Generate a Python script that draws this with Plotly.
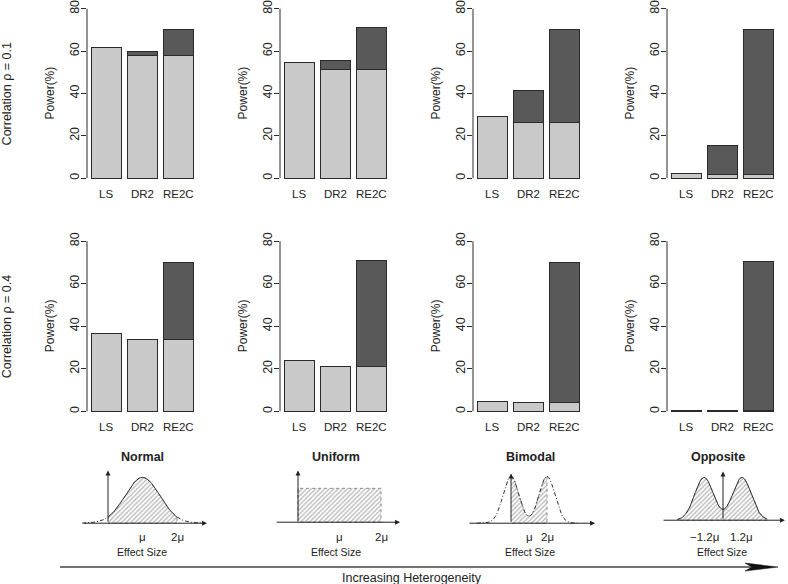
import numpy as np
import plotly.graph_objects as go

# ---------------- data ----------------
methods = ["LS", "DR2", "RE2C"]
scenarios = ["Normal", "Uniform", "Bimodal", "Opposite"]
row_labels = ["Correlation ρ = 0.1", "Correlation ρ = 0.4"]

# rho = 0.1
ls_r1 = [61.5, 54.5, 28.9, 2.2]
dr2_base_r1 = [58.0, 51.1, 26.4, 1.9]
dr2_total_r1 = [59.8, 55.6, 41.6, 15.5]
re2c_base_r1 = [58.0, 51.1, 26.4, 1.9]
re2c_total_r1 = [70.0, 71.1, 70.3, 70.0]
# rho = 0.4
ls_r2 = [36.7, 23.7, 4.7, 0.2]
dr2_base_r2 = [33.7, 21.2, 3.9, 0.2]
dr2_total_r2 = [33.7, 21.2, 3.9, 0.2]
re2c_base_r2 = [33.7, 21.2, 3.9, 0.2]
re2c_total_r2 = [70.0, 70.9, 70.0, 70.3]

y_ticks = [0, 20, 40, 60, 80]

# effect-size distributions of the sketches (in units of mu)
normal_mean, normal_sd = 1.0, 0.5
uniform_low, uniform_high = 0.0, 2.0
bimodal_modes, bimodal_sd = [0.0, 2.0], 0.44
opposite_modes, opposite_sd = [-1.2, 1.2], 0.59

# ---------------- layout helpers ----------------
W, H = 788, 584
FONT = "Liberation Sans, Arial, sans-serif"
TXT = "#222222"
LIGHT = "#c9c9c9"
DARK = "#595959"
EDGE = "#2a2a2a"


def xd(l, r):
    return [max(0, l / W), min(1, r / W)]


def yd(top, bottom):
    return [max(0, 1 - bottom / H), min(1, 1 - top / H)]


fig = go.Figure()
layout = dict(
    width=W, height=H, margin=dict(l=0, r=0, t=0, b=0),
    paper_bgcolor="white", plot_bgcolor="white", showlegend=False,
    barmode="stack", bargap=1 / 6, font=dict(family=FONT, color=TXT, size=12),
)
annotations = []
shapes = []

panel_lefts = [87, 280, 473, 667]
panel_w = 110.2
row_tb = [(-0.1, 183.5), (233.2, 417.5)]
rows = [
    (ls_r1, dr2_base_r1, dr2_total_r1, re2c_base_r1, re2c_total_r1),
    (ls_r2, dr2_base_r2, dr2_total_r2, re2c_base_r2, re2c_total_r2),
]
cat_label_px = [193, 426]

idx = 0
for r in range(2):
    ls, db, dt, rb, rt = rows[r]
    top, bot = row_tb[r]
    for c in range(4):
        idx += 1
        sfx = "" if idx == 1 else str(idx)
        xname, yname = "x" + sfx, "y" + sfx
        light = [ls[c], db[c], rb[c]]
        dark = [None, dt[c] - db[c], rt[c] - rb[c]]
        fig.add_trace(go.Bar(x=methods, y=light, xaxis=xname, yaxis=yname,
                             marker=dict(color=LIGHT, line=dict(color=EDGE, width=1))))
        fig.add_trace(go.Bar(x=methods, y=dark, xaxis=xname, yaxis=yname,
                             marker=dict(color=DARK, line=dict(color=EDGE, width=1))))
        layout["xaxis" + sfx] = dict(
            domain=xd(panel_lefts[c], panel_lefts[c] + panel_w), anchor=yname,
            type="category", categoryarray=methods, range=[-0.53, 2.53],
            showline=False, showgrid=False, zeroline=False, showticklabels=False,
            ticks="", fixedrange=True)
        layout["yaxis" + sfx] = dict(
            domain=yd(top, bot), anchor=xname, range=[-3.2, 83.2],
            tickvals=y_ticks, ticks="outside", ticklen=5, tickcolor=EDGE,
            tickangle=-90, tickfont=dict(size=12.5), ticklabeloverflow="allow",
            ticklabelstandoff=-3,
            showline=False, showgrid=False, zeroline=False, fixedrange=True)
        shapes.append(dict(type="line", xref=xname + " domain", yref=yname,
                           x0=0, x1=0, y0=0, y1=80, line=dict(color=EDGE, width=1)))
        for m in methods:
            annotations.append(dict(text=m, x=m, xref=xname, yref="paper",
                                    y=1 - cat_label_px[r] / H, showarrow=False,
                                    font=dict(size=11.5), xanchor="center", yanchor="middle"))
        annotations.append(dict(
            text="Power(%)", textangle=-90, xref="paper", yref="paper",
            x=(panel_lefts[c] - 37) / W, y=1 - ((top + bot) / 2) / H,
            showarrow=False, font=dict(size=12), xanchor="center", yanchor="middle"))
    annotations.append(dict(
        text=row_labels[r], textangle=-90, xref="paper", yref="paper",
        x=7 / W, y=1 - ((top + bot) / 2 + 1) / H, showarrow=False,
        font=dict(size=12.5), xanchor="center", yanchor="middle"))

# ---------------- distribution sketches ----------------
def gauss(x, m, s):
    return np.exp(-0.5 * ((x - m) / s) ** 2)


sketch_cfg = [
    # x0 px, px per mu, domain px, baseline px, peak px, h-axis [l,r], v-axis top px
    dict(x0=108, s=34.5, dom=(70, 222), b=523, p=477, h=(-0.75, 2.87), vt=470),
    dict(x0=298, s=41.5, dom=(262, 412), b=522, p=488, h=(-0.55, 2.46), vt=470),
    dict(x0=511, s=18.0, dom=(458, 602), b=523, p=476, h=(-2.39, 4.67), vt=473),
    dict(x0=723, s=15.8, dom=(652, 788), b=520, p=477, h=(-3.86, 3.92), vt=471),
]
ydom_px = (456, 534)
title_x = [142, 336, 530, 718]
label_x = [142, 336, 530, 722]
hatch = dict(shape="/", fgcolor="#6e6e6e", bgcolor="white", size=3.2, solidity=0.4)
dot_line = dict(color="#8a8a8a", width=1, dash="dot")
curve_solid = dict(color="#333333", width=1)
curve_dash = dict(color="#333333", width=1, dash="4px,2px,1px,2px")

for k, cfg in enumerate(sketch_cfg):
    n = 9 + k
    xname, yname = f"x{n}", f"y{n}"
    sc = cfg["b"] - cfg["p"]
    xr = [(cfg["dom"][0] - cfg["x0"]) / cfg["s"], (cfg["dom"][1] - cfg["x0"]) / cfg["s"]]
    yr = [-(ydom_px[1] - cfg["b"]) / sc, (cfg["b"] - ydom_px[0]) / sc]
    layout[f"xaxis{n}"] = dict(domain=xd(*cfg["dom"]), anchor=yname, range=xr, visible=False, fixedrange=True)
    layout[f"yaxis{n}"] = dict(domain=yd(*ydom_px), anchor=xname, range=yr, visible=False, fixedrange=True)
    name = scenarios[k]

    def add(x, y, line, fill=False):
        fig.add_trace(go.Scatter(
            x=x, y=y, xaxis=xname, yaxis=yname, mode="lines", line=line,
            fill="toself" if fill else None, fillpattern=hatch if fill else None,
            hoverinfo="skip"))

    if name == "Normal":
        f = lambda x: gauss(x, normal_mean, normal_sd)
        xs = np.linspace(0, 2 * normal_mean, 120)
        add(np.r_[xs, xs[::-1]], np.r_[f(xs), np.zeros_like(xs)], dot_line, fill=True)
        add(xs, f(xs), curve_solid)
        xl = np.linspace(-0.75, 0, 30)
        xh = np.linspace(2 * normal_mean, 2.8, 40)
        add(xl, f(xl), curve_dash)
        add(xh, f(xh), curve_dash)
        mu_labels = [(1, "μ"), (2, "2μ")]
    elif name == "Uniform":
        add([uniform_low, uniform_low, uniform_high, uniform_high, uniform_low],
            [0, 1, 1, 0, 0], dot_line, fill=True)
        mu_labels = [(1, "μ"), (2, "2μ")]
    elif name == "Bimodal":
        f = lambda x: (gauss(x, bimodal_modes[0], bimodal_sd) + gauss(x, bimodal_modes[1], bimodal_sd)) / \
            (1 + gauss(bimodal_modes[1], bimodal_modes[0], bimodal_sd))
        xs = np.linspace(bimodal_modes[0], bimodal_modes[1], 120)
        add(np.r_[xs, xs[::-1]], np.r_[f(xs), np.zeros_like(xs)], dot_line, fill=True)
        add(xs, f(xs), curve_dash)
        xl = np.linspace(-1.9, 0, 50)
        xh = np.linspace(2, 3.67, 50)
        add(xl, f(xl), curve_dash)
        add(xh, f(xh), curve_dash)
        mu_labels = [(1, "μ"), (2, "2μ")]
    else:
        f = lambda x: (gauss(x, opposite_modes[0], opposite_sd) + gauss(x, opposite_modes[1], opposite_sd)) / \
            (1 + gauss(opposite_modes[1], opposite_modes[0], opposite_sd))
        xs = np.linspace(-2.9, 2.8, 200)
        add(np.r_[xs, xs[::-1]], np.r_[f(xs), np.zeros_like(xs)], dot_line, fill=True)
        add(xs, f(xs), curve_solid)
        mu_labels = [(-1.2, "−1.2μ"), (1.2, "1.2μ")]

    vtop = (cfg["b"] - cfg["vt"]) / sc
    annotations.append(dict(x=0, y=vtop, ax=0, ay=0, xref=xname, yref=yname, axref=xname, ayref=yname,
                            showarrow=True, arrowhead=2, arrowsize=1, arrowwidth=1, arrowcolor="#222", text=""))
    annotations.append(dict(x=cfg["h"][1], y=0, ax=cfg["h"][0], ay=0, xref=xname, yref=yname,
                            axref=xname, ayref=yname, showarrow=True, arrowhead=2, arrowsize=1,
                            arrowwidth=1, arrowcolor="#222", text=""))
    for xv, t in mu_labels:
        annotations.append(dict(x=xv, y=1 - 537 / H, xref=xname, yref="paper", text=t, showarrow=False,
                                font=dict(size=11.5), xanchor="center", yanchor="middle"))
    annotations.append(dict(x=title_x[k] / W, y=1 - 457 / H, xref="paper", yref="paper",
                            text=f"<b>{name}</b>", showarrow=False, font=dict(size=12.5),
                            xanchor="center", yanchor="middle"))
    annotations.append(dict(x=label_x[k] / W, y=1 - 552 / H, xref="paper", yref="paper",
                            text="Effect Size", showarrow=False, font=dict(size=10.5),
                            xanchor="center", yanchor="middle"))

# ---------------- heterogeneity arrow ----------------
ay_px = 567
shapes.append(dict(type="line", xref="paper", yref="paper", x0=60 / W, x1=760 / W,
                   y0=1 - ay_px / H, y1=1 - ay_px / H, line=dict(color="#444", width=1.5)))
pts = [(745, ay_px - 4), (778, ay_px), (745, ay_px + 4), (752, ay_px)]
path = "M " + " L ".join(f"{px / W:.5f},{1 - py / H:.5f}" for px, py in pts) + " Z"
shapes.append(dict(type="path", xref="paper", yref="paper", path=path,
                   fillcolor="#111", line=dict(color="#111", width=0.5)))
annotations.append(dict(x=412 / W, y=1 - 578 / H, xref="paper", yref="paper",
                        text="Increasing Heterogeneity", showarrow=False, font=dict(size=12.5),
                        xanchor="center", yanchor="middle"))

layout["annotations"] = annotations
layout["shapes"] = shapes
fig.update_layout(**layout)
fig.write_html("out.html", config={"displayModeBar": False},
               post_script="document.body.style.margin='0';document.body.style.overflow='hidden';")
